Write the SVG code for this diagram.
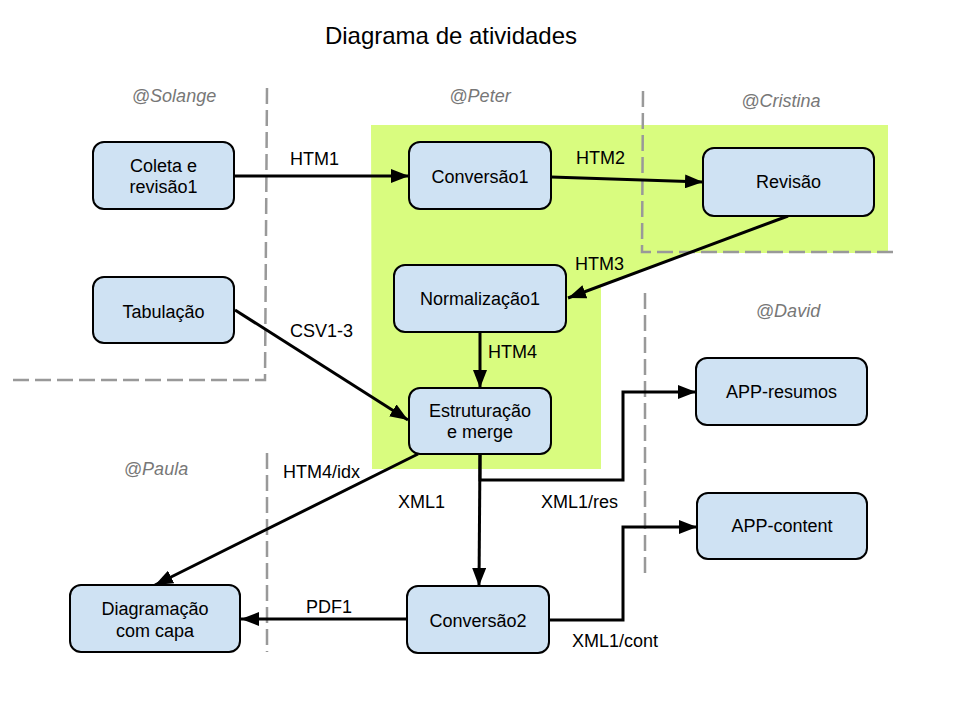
<svg xmlns="http://www.w3.org/2000/svg" width="960" height="720" viewBox="0 0 960 720">
  <style>
    text { font-family: "Liberation Sans", Arial, sans-serif; font-size: 18px; fill: #000; }
    .title { font-size: 24px; }
    .lane { font-style: italic; fill: #777; text-anchor: middle; }
    .lanebox { fill: none; stroke: #999; stroke-width: 2.5; stroke-dasharray: 16 6; }
    .node rect { fill: #cfe2f3; stroke: #000; stroke-width: 2; }
    .node text { text-anchor: middle; }
    .edge { fill: none; stroke: #000; stroke-width: 3; marker-end: url(#arrow); }
    .noarrow { marker-end: none; }
  </style>
  <defs>
    <marker id="arrow" markerUnits="userSpaceOnUse" markerWidth="18" markerHeight="14" refX="18" refY="7" orient="auto">
      <path d="M0,0 L18,7 L0,14 z" fill="#000"/>
    </marker>
  </defs>

  <rect width="960" height="720" fill="#fff"/>

  <!-- highlighted area (Peter / Cristina) -->
  <polygon points="371,125 888,125 888,253 689,253 601,286 601,469 372,469" fill="#d9fc7f"/>

  <!-- lane borders -->
  <g id="lanes">
    <polyline class="lanebox" points="267,88 265,380 7,380"/>
    <line class="lanebox" x1="267" y1="453" x2="267" y2="652"/>
    <polyline class="lanebox" points="643,91 642,252 899,252"/>
    <line class="lanebox" x1="645" y1="293" x2="645" y2="573"/>
    <text class="lane" x="174" y="102">@Solange</text>
    <text class="lane" x="480" y="102">@Peter</text>
    <text class="lane" x="781" y="107">@Cristina</text>
    <text class="lane" x="788" y="317">@David</text>
    <text class="lane" x="156" y="475">@Paula</text>
  </g>

  <text class="title" x="451" y="44" text-anchor="middle">Diagrama de atividades</text>

  <!-- connectors -->
  <g id="connectors">
    <path class="edge" d="M234,176 L409,176"/>
    <path class="edge" d="M551,177 L703,182"/>
    <path class="edge" d="M788,216 L568,298"/>
    <path class="edge" d="M480,332 L480,388"/>
    <path class="edge" d="M235,310 L408,420"/>
    <path class="edge" d="M418,454 L155,585"/>
    <path class="edge" d="M480,454 L479,586"/>
    <path class="edge" d="M480,454 L480,480 L623,480 L623,392 L696,392"/>
    <path class="edge" d="M549,620 L623,620 L623,527 L697,527"/>
    <path class="edge" d="M407,619 L241,619"/>

    <text x="290" y="165">HTM1</text>
    <text x="576" y="164">HTM2</text>
    <text x="575" y="270">HTM3</text>
    <text x="488" y="358">HTM4</text>
    <text x="290" y="337">CSV1-3</text>
    <text x="283" y="478">HTM4/idx</text>
    <text x="398" y="508">XML1</text>
    <text x="541" y="508">XML1/res</text>
    <text x="572" y="647">XML1/cont</text>
    <text x="306" y="613">PDF1</text>
  </g>

  <!-- nodes -->
  <g id="coleta" class="node">
    <rect x="93" y="142" width="141" height="67" rx="11"/>
    <text x="163.5" y="172">Coleta e</text>
    <text x="163.5" y="193">revisão1</text>
  </g>
  <g id="conversao1" class="node">
    <rect x="409" y="142" width="142" height="67" rx="11"/>
    <text x="480" y="183">Conversão1</text>
  </g>
  <g id="revisao" class="node">
    <rect x="703" y="148" width="171" height="68" rx="11"/>
    <text x="788.5" y="188">Revisão</text>
  </g>
  <g id="tabulacao" class="node">
    <rect x="93" y="277" width="141" height="66" rx="11"/>
    <text x="163.5" y="318">Tabulação</text>
  </g>
  <g id="normalizacao1" class="node">
    <rect x="394" y="265" width="172" height="67" rx="11"/>
    <text x="480" y="305">Normalização1</text>
  </g>
  <g id="estruturacao" class="node">
    <rect x="409" y="388" width="142" height="66" rx="11"/>
    <text x="480" y="417">Estruturação</text>
    <text x="480" y="438">e merge</text>
  </g>
  <g id="app-resumos" class="node">
    <rect x="696" y="358" width="171" height="67" rx="11"/>
    <text x="781.5" y="398">APP-resumos</text>
  </g>
  <g id="app-content" class="node">
    <rect x="697" y="493" width="170" height="66" rx="11"/>
    <text x="782" y="532">APP-content</text>
  </g>
  <g id="diagramacao" class="node">
    <rect x="70" y="585" width="170" height="67" rx="11"/>
    <text x="155" y="615">Diagramação</text>
    <text x="155" y="637">com capa</text>
  </g>
  <g id="conversao2" class="node">
    <rect x="407" y="586" width="142" height="67" rx="11"/>
    <text x="478" y="627">Conversão2</text>
  </g>
</svg>
